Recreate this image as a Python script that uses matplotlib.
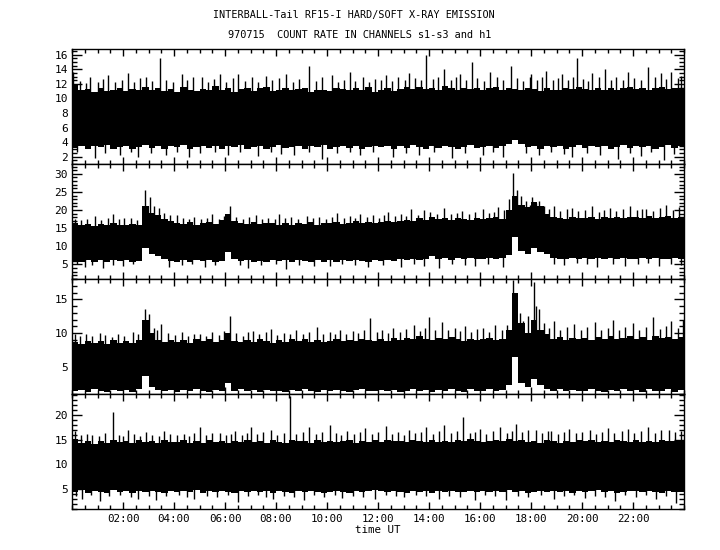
import numpy as np
import matplotlib.pyplot as plt
from matplotlib.ticker import MultipleLocator, FixedLocator

# 15-minute bins over the day (hours UT)
edges = np.linspace(0, 24, 97)

# upper / lower edge of the dense band, read per 15 min bin
s1_top = [11.8, 11.1, 11.3, 10.9, 11.4, 11.0, 11.2, 11.5,
          11.0, 11.3, 11.1, 11.6, 11.2, 11.5, 11.0, 11.3,
          10.9, 11.6, 11.2, 11.0, 11.3, 11.1, 11.7, 11.1,
          11.4, 10.9, 11.3, 11.5, 11.0, 11.4, 11.6, 11.0,
          11.2, 11.4, 11.1, 11.3, 11.5, 10.9, 11.2, 11.1,
          11.0, 11.4, 11.3, 11.1, 11.4, 11.1, 11.6, 10.9,
          11.2, 11.5, 11.0, 11.3, 11.6, 11.3, 11.6, 11.3,
          11.5, 11.2, 11.7, 11.4, 11.1, 11.5, 11.3, 11.4,
          11.1, 11.4, 11.6, 11.2, 11.4, 11.3, 11.2, 11.5,
          11.3, 11.0, 11.4, 11.2, 11.1, 11.5, 11.3, 11.6,
          11.3, 11.1, 11.4, 11.2, 11.5, 11.2, 11.4, 11.6,
          11.3, 11.5, 11.2, 11.4, 11.6, 11.3, 11.5, 11.4]
s1_bot = [3.2, 3.5, 3.1, 3.4, 3.3, 3.6, 3.1, 3.3,
          3.5, 3.1, 3.3, 3.6, 3.2, 3.4, 3.1, 3.5,
          3.3, 3.6, 3.1, 3.3, 3.5, 3.2, 3.4, 3.1,
          3.4, 3.3, 3.6, 3.1, 3.3, 3.5, 3.1, 3.3,
          3.6, 3.2, 3.3, 3.5, 3.1, 3.4, 3.3, 3.6,
          3.1, 3.3, 3.5, 3.2, 3.4, 3.1, 3.3, 3.5,
          3.3, 3.5, 3.1, 3.4, 3.2, 3.6, 3.3, 3.1,
          3.4, 3.2, 3.5, 3.3, 3.1, 3.3, 3.6, 3.2,
          3.3, 3.5, 3.2, 3.4, 3.7, 4.3, 3.7, 3.3,
          3.5, 3.1, 3.4, 3.3, 3.5, 3.1, 3.3, 3.6,
          3.2, 3.4, 3.3, 3.5, 3.1, 3.3, 3.6, 3.2,
          3.4, 3.3, 3.5, 3.1, 3.3, 3.6, 3.2, 3.4]

s2_top = [16.3, 15.8, 16.1, 15.7, 16.2, 15.9, 16.4, 16.0,
          15.8, 16.2, 16.0, 21.0, 19.2, 18.6, 17.6, 17.0,
          16.5, 16.2, 16.6, 16.0, 16.4, 16.7, 16.2, 17.2,
          18.8, 17.0, 16.5, 16.2, 16.6, 16.1, 16.4, 16.3,
          16.0, 16.3, 15.9, 16.5, 16.2, 16.6, 16.0, 16.4,
          16.3, 16.7, 16.1, 16.5, 16.9, 16.4, 16.8, 16.5,
          16.7, 17.1, 16.6, 17.0, 17.3, 16.9, 17.7, 17.3,
          18.2, 17.6, 17.9, 17.3, 17.8, 17.5, 17.3, 17.7,
          17.4, 17.8, 18.2, 17.6, 20.0, 24.0, 21.5, 20.8,
          22.2, 21.0, 19.0, 18.2, 17.9, 17.6, 18.1, 17.8,
          17.7, 18.0, 17.6, 18.2, 17.9, 18.1, 17.7, 18.0,
          18.2, 17.8, 18.3, 17.9, 18.1, 18.4, 17.8, 18.1]
s2_bot = [6.0, 5.7, 6.2, 5.8, 6.1, 5.6, 6.1, 5.9,
          6.2, 5.8, 6.0, 9.5, 7.8, 7.4, 6.6, 6.0,
          5.8, 6.1, 5.7, 6.1, 5.9, 6.2, 5.8, 6.0,
          8.5, 6.4, 5.9, 6.1, 5.7, 6.0, 5.8, 6.2,
          5.9, 6.1, 5.8, 6.2, 6.0, 5.7, 6.1, 5.8,
          6.1, 5.8, 6.2, 5.9, 6.3, 6.0, 5.8, 6.2,
          6.0, 6.3, 5.9, 6.4, 6.1, 6.5, 6.2, 6.4,
          7.2, 6.6, 6.8, 6.3, 6.7, 6.4, 6.9, 6.5,
          6.6, 6.9, 6.4, 6.8, 7.6, 12.5, 8.6, 8.0,
          9.5, 8.4, 7.8, 6.9, 6.6, 6.4, 6.8, 6.5,
          6.7, 6.4, 6.8, 6.5, 6.8, 6.4, 6.9, 6.6,
          6.4, 6.8, 6.5, 6.8, 6.6, 6.4, 6.7, 6.5]

s3_top = [8.7, 8.4, 8.9, 8.5, 8.8, 8.4, 9.0, 8.6,
          8.9, 8.5, 9.0, 12.0, 10.0, 9.0, 8.7, 9.0,
          8.7, 9.0, 8.6, 9.1, 8.8, 9.1, 8.7, 9.0,
          10.0, 8.9, 8.7, 9.0, 8.7, 9.1, 8.8, 8.6,
          9.0, 8.7, 9.1, 8.8, 9.2, 8.7, 9.0, 8.7,
          8.9, 9.2, 8.8, 9.0, 8.8, 9.2, 9.0, 8.8,
          9.1, 8.9, 9.3, 9.0, 9.3, 9.1, 9.5, 9.2,
          9.0, 9.3, 9.1, 9.4, 9.2, 8.9, 9.2, 9.0,
          9.1, 9.3, 9.0, 9.2, 10.5, 16.0, 11.5, 10.0,
          12.0, 10.5, 9.8, 9.2, 9.4, 9.0, 9.3, 9.1,
          9.3, 9.0, 9.4, 9.2, 9.5, 9.1, 9.3, 9.5,
          9.2, 9.4, 9.0, 9.5, 9.3, 9.4, 9.1, 9.4]
s3_bot = [1.4, 1.6, 1.3, 1.7, 1.5, 1.3, 1.6, 1.4,
          1.6, 1.3, 1.7, 3.6, 2.0, 1.6, 1.4, 1.6,
          1.3, 1.6, 1.4, 1.7, 1.5, 1.3, 1.6, 1.4,
          2.7, 1.5, 1.7, 1.4, 1.6, 1.3, 1.6, 1.5,
          1.5, 1.3, 1.6, 1.4, 1.7, 1.5, 1.3, 1.6,
          1.4, 1.6, 1.5, 1.3, 1.6, 1.7, 1.4, 1.5,
          1.6, 1.4, 1.6, 1.3, 1.5, 1.7, 1.4, 1.6,
          1.3, 1.6, 1.4, 1.7, 1.5, 1.3, 1.7, 1.4,
          1.5, 1.7, 1.4, 1.6, 2.4, 6.5, 2.6, 2.0,
          3.2, 2.4, 1.8, 1.5, 1.7, 1.4, 1.6, 1.5,
          1.4, 1.7, 1.5, 1.3, 1.6, 1.4, 1.7, 1.5,
          1.6, 1.3, 1.7, 1.4, 1.5, 1.7, 1.3, 1.6]

h1_top = [15.2, 14.4, 14.7, 14.2, 14.8, 14.4, 14.9, 14.5,
          14.7, 14.3, 14.9, 14.6, 14.8, 14.4, 14.9, 14.5,
          14.6, 15.0, 14.4, 14.8, 14.3, 14.9, 14.6, 14.7,
          14.4, 14.8, 14.6, 15.0, 14.5, 14.7, 14.3, 14.9,
          14.6, 14.4, 14.9, 14.7, 14.8, 14.4, 15.0, 14.6,
          14.8, 14.5, 14.7, 15.0, 14.4, 14.8, 14.6, 14.9,
          14.5, 14.9, 14.7, 14.8, 14.5, 15.0, 14.7, 14.6,
          15.0, 14.6, 14.8, 14.5, 14.9, 14.7, 15.1, 14.7,
          14.5, 14.8, 15.0, 14.7, 15.2, 14.8, 14.9, 14.6,
          14.8, 14.4, 14.9, 14.7, 14.4, 14.8, 14.6, 15.0,
          14.7, 14.9, 14.5, 14.8, 14.6, 15.0, 14.7, 14.5,
          14.9, 14.6, 14.8, 14.5, 15.0, 14.7, 14.8, 15.0]
h1_bot = [4.5, 4.8, 4.3, 4.7, 4.5, 4.3, 4.8, 4.5,
          4.6, 4.3, 4.7, 4.4, 4.7, 4.5, 4.3, 4.6,
          4.4, 4.7, 4.5, 4.8, 4.3, 4.6, 4.5, 4.7,
          4.5, 4.3, 4.6, 4.4, 4.7, 4.5, 4.7, 4.3,
          4.7, 4.5, 4.3, 4.6, 4.4, 4.7, 4.5, 4.3,
          4.5, 4.7, 4.5, 4.3, 4.7, 4.4, 4.6, 4.8,
          4.6, 4.4, 4.7, 4.5, 4.3, 4.7, 4.5, 4.6,
          4.3, 4.7, 4.5, 4.7, 4.5, 4.4, 4.6, 4.5,
          4.7, 4.5, 4.6, 4.4, 4.8, 4.5, 4.7, 4.3,
          4.5, 4.7, 4.4, 4.6, 4.5, 4.7, 4.3, 4.6,
          4.4, 4.6, 4.8, 4.5, 4.7, 4.3, 4.5, 4.7,
          4.6, 4.4, 4.7, 4.5, 4.3, 4.7, 4.5, 4.5]

# single spikes above / below the band (time UT in hours, count rate)
s1_up = [(0.05, 13.6), (0.3, 12.4), (0.55, 12.1), (0.7, 12.9), (1.0, 12.3), (1.2, 12.7),
         (1.4, 13.2), (1.7, 12.2), (1.95, 12.6), (2.2, 13.5), (2.45, 12.3), (2.65, 12.8),
         (2.9, 13.0), (3.15, 12.4), (3.45, 15.5), (3.7, 12.6), (3.95, 12.2), (4.3, 13.3),
         (4.5, 12.5), (4.75, 12.9), (5.1, 13.0), (5.35, 12.3), (5.55, 12.7), (5.8, 13.4),
         (6.05, 12.2), (6.3, 12.8), (6.5, 13.4), (6.8, 12.4), (7.05, 12.9), (7.3, 12.2),
         (7.6, 13.1), (7.85, 12.5), (8.1, 12.8), (8.4, 13.3), (8.65, 12.3), (8.9, 12.7),
         (9.3, 14.5), (9.55, 12.4), (9.8, 12.9), (10.2, 13.2), (10.45, 12.3), (10.65, 12.6),
         (10.9, 13.6), (11.1, 12.4), (11.4, 12.9), (11.65, 12.2), (11.9, 12.7), (12.1, 12.5),
         (12.3, 13.2), (12.55, 12.4), (12.8, 12.9), (13.05, 12.6), (13.2, 13.5), (13.45, 12.8),
         (13.7, 12.5), (13.9, 16.0), (14.15, 12.7), (14.35, 13.0), (14.6, 14.0), (14.85, 12.6),
         (15.05, 12.9), (15.2, 13.4), (15.45, 12.5), (15.7, 15.0), (15.9, 12.8), (16.15, 12.4),
         (16.4, 13.6), (16.65, 12.9), (16.9, 12.5), (17.2, 14.4), (17.45, 12.8), (17.7, 12.4),
         (17.95, 12.9), (18.0, 13.3), (18.25, 12.6), (18.45, 12.9), (18.6, 13.8), (18.85, 12.5),
         (19.05, 12.8), (19.2, 13.4), (19.45, 12.6), (19.65, 13.0), (19.8, 15.6), (20.05, 12.7),
         (20.25, 12.4), (20.4, 13.5), (20.65, 12.9), (20.9, 14.1), (21.15, 12.6), (21.35, 13.0),
         (21.6, 12.5), (21.8, 13.7), (22.05, 12.8), (22.3, 12.5), (22.6, 14.3), (22.85, 12.9),
         (23.1, 13.5), (23.3, 12.7), (23.5, 13.6), (23.75, 12.8), (23.9, 13.1)]
s1_dn = [(0.2, 2.6), (0.9, 1.8), (1.3, 2.5), (1.9, 2.2), (2.3, 2.7), (2.6, 2.0), (3.1, 2.5),
         (3.7, 2.3), (4.1, 2.6), (4.6, 1.9), (5.0, 2.5), (5.6, 2.7), (6.1, 2.2), (6.6, 2.6),
         (7.3, 2.1), (7.8, 2.6), (8.2, 2.4), (8.7, 2.3), (9.3, 2.6), (9.8, 1.7), (10.4, 2.5),
         (10.9, 2.7), (11.3, 2.2), (11.8, 2.6), (12.6, 2.0), (13.1, 2.5), (13.6, 2.3),
         (14.2, 2.6), (14.9, 1.8), (15.4, 2.5), (16.1, 2.2), (16.5, 2.6), (16.9, 1.9),
         (17.8, 2.5), (18.3, 2.2), (18.8, 2.6), (19.3, 2.4), (19.6, 1.9), (20.2, 2.5),
         (20.7, 2.2), (21.4, 1.7), (21.9, 2.5), (22.3, 2.1), (22.7, 2.6), (23.2, 1.6),
         (23.6, 2.4)]
s2_up = [(0.1, 17.5), (0.35, 17.2), (0.6, 17.6), (0.9, 18.3), (1.15, 17.3), (1.4, 17.8),
         (1.6, 18.8), (1.85, 17.4), (2.05, 17.7), (2.3, 17.9), (2.55, 17.3), (2.87, 25.5),
         (3.05, 23.5), (3.2, 21.0), (3.4, 20.5), (3.6, 19.2), (3.85, 18.6), (4.1, 18.5),
         (4.35, 17.8), (4.6, 17.5), (4.8, 18.2), (5.05, 17.6), (5.3, 17.9), (5.5, 19.0),
         (5.75, 17.6), (5.95, 18.3), (6.2, 21.0), (6.45, 18.1), (6.7, 17.6), (6.95, 18.0),
         (7.2, 18.6), (7.45, 17.5), (7.7, 17.9), (7.95, 17.4), (8.1, 19.0), (8.35, 17.7),
         (8.6, 18.0), (8.85, 17.5), (9.2, 18.4), (9.45, 17.8), (9.7, 18.1), (9.95, 17.6),
         (10.2, 18.2), (10.4, 19.2), (10.65, 17.9), (10.9, 18.3), (11.1, 17.8), (11.3, 18.8),
         (11.55, 18.0), (11.8, 18.5), (12.05, 17.9), (12.25, 18.6), (12.4, 19.5), (12.65, 18.4),
         (12.9, 18.8), (13.1, 18.3), (13.3, 20.3), (13.55, 18.7), (13.8, 20.0), (14.05, 19.4),
         (14.3, 18.9), (14.6, 20.6), (14.85, 19.0), (15.1, 19.3), (15.3, 19.8), (15.55, 18.9),
         (15.8, 19.5), (16.1, 20.2), (16.35, 19.1), (16.55, 19.6), (16.7, 20.8), (16.95, 20.0),
         (17.15, 23.0), (17.3, 30.2), (17.45, 25.5), (17.6, 23.8), (17.8, 22.4), (17.95, 21.5),
         (18.05, 23.5), (18.2, 22.0), (18.3, 22.6), (18.5, 21.2), (18.7, 20.4), (18.9, 21.0),
         (19.15, 19.8), (19.4, 20.2), (19.6, 20.6), (19.85, 19.7), (20.1, 20.0), (20.4, 21.2),
         (20.65, 19.6), (20.85, 20.1), (21.1, 20.5), (21.35, 19.8), (21.6, 20.3), (21.9, 21.0),
         (22.15, 19.9), (22.35, 20.2), (22.5, 20.4), (22.8, 19.8), (23.05, 20.6), (23.3, 21.5),
         (23.55, 20.0), (23.8, 20.8)]
s2_dn = [(0.2, 5.0), (0.5, 4.3), (0.8, 4.9), (1.2, 3.9), (1.6, 4.8), (2.0, 4.5), (2.4, 5.1),
         (3.8, 4.2), (4.3, 4.9), (4.7, 5.0), (5.2, 4.4), (5.6, 4.8), (6.6, 4.9), (6.9, 4.0),
         (7.4, 4.8), (8.0, 5.0), (8.4, 3.8), (8.9, 4.9), (9.5, 4.7), (10.1, 4.5), (10.6, 5.0),
         (11.1, 4.8), (11.6, 4.2), (12.2, 4.9), (12.9, 4.3), (13.4, 5.0), (13.8, 4.6),
         (14.4, 4.1), (14.9, 5.1), (15.4, 4.9), (15.8, 4.6), (16.3, 5.2), (16.9, 4.4),
         (18.9, 5.2), (19.3, 4.8), (19.8, 5.3), (20.2, 5.1), (20.6, 4.3), (21.2, 5.2),
         (21.7, 4.6), (22.2, 5.0), (22.6, 5.3), (23.0, 4.5), (23.5, 5.1), (23.9, 4.9)]
s3_up = [(0.1, 9.9), (0.3, 9.6), (0.55, 9.9), (0.8, 9.5), (1.1, 10.0), (1.3, 9.7),
         (1.55, 9.4), (1.8, 9.8), (2.05, 9.6), (2.4, 10.2), (2.6, 9.8), (2.85, 13.5),
         (3.0, 12.8), (3.2, 10.8), (3.35, 10.4), (3.5, 11.4), (3.75, 10.0), (4.05, 9.7),
         (4.3, 10.2), (4.55, 9.6), (4.8, 9.9), (5.0, 9.9), (5.25, 9.5), (5.5, 10.1),
         (5.75, 9.7), (5.95, 10.3), (6.2, 12.5), (6.45, 10.0), (6.7, 9.6), (6.9, 10.2),
         (7.1, 10.3), (7.35, 9.8), (7.6, 10.1), (7.8, 10.6), (8.05, 9.7), (8.3, 10.0),
         (8.55, 9.8), (8.8, 10.4), (9.05, 9.9), (9.3, 10.2), (9.6, 10.9), (9.85, 9.8),
         (10.1, 10.1), (10.3, 9.8), (10.5, 10.5), (10.75, 9.9), (11.0, 10.3), (11.2, 10.0),
         (11.45, 10.4), (11.7, 12.2), (11.95, 10.1), (12.15, 10.5), (12.4, 10.0), (12.6, 10.8),
         (12.85, 10.2), (13.1, 10.6), (13.4, 11.2), (13.65, 10.3), (13.85, 10.7), (14.0, 12.4),
         (14.25, 10.5), (14.5, 11.6), (14.75, 10.4), (15.0, 10.8), (15.2, 10.3), (15.4, 11.0),
         (15.65, 10.2), (15.9, 10.6), (16.1, 10.8), (16.35, 10.1), (16.6, 11.2), (16.85, 10.4),
         (17.05, 11.2), (17.3, 17.8), (17.4, 15.5), (17.55, 13.0), (17.7, 11.8), (17.9, 12.5),
         (18.1, 17.5), (18.2, 14.0), (18.3, 13.5), (18.5, 11.5), (18.7, 10.8), (18.9, 11.8),
         (19.15, 10.4), (19.4, 10.9), (19.7, 11.3), (19.95, 10.5), (20.2, 10.9), (20.5, 11.6),
         (20.75, 10.4), (21.0, 10.8), (21.2, 12.0), (21.45, 10.5), (21.7, 10.9), (22.0, 11.5),
         (22.25, 10.4), (22.5, 10.9), (22.8, 12.4), (23.05, 10.6), (23.3, 11.0), (23.5, 11.8),
         (23.75, 10.7), (23.95, 12.0)]
s3_dn = []
h1_up = [(0.1, 16.8), (0.35, 15.9), (0.6, 16.2), (0.8, 16.0), (1.05, 15.7), (1.3, 16.3),
         (1.6, 20.5), (1.85, 16.0), (2.0, 15.8), (2.2, 17.0), (2.45, 16.1), (2.65, 15.7),
         (2.9, 16.5), (3.15, 16.0), (3.4, 15.8), (3.6, 16.8), (3.85, 16.1), (4.1, 15.9),
         (4.4, 16.2), (4.6, 15.8), (4.8, 16.4), (5.0, 17.5), (5.25, 16.0), (5.5, 16.3),
         (5.8, 16.4), (6.05, 15.9), (6.25, 16.2), (6.4, 16.7), (6.65, 16.0), (6.85, 16.3),
         (7.0, 17.5), (7.25, 16.1), (7.5, 16.5), (7.8, 16.9), (8.05, 16.0), (8.3, 16.4),
         (8.55, 23.8), (8.8, 16.2), (9.05, 16.6), (9.3, 17.6), (9.55, 16.1), (9.8, 16.5),
         (10.1, 18.0), (10.35, 16.3), (10.55, 16.0), (10.8, 16.8), (11.05, 16.2), (11.3, 16.5),
         (11.5, 17.3), (11.75, 16.1), (12.0, 16.6), (12.3, 17.8), (12.55, 16.2), (12.8, 16.5),
         (13.0, 16.0), (13.2, 16.9), (13.45, 16.3), (13.7, 16.6), (13.9, 17.5), (14.15, 16.2),
         (14.4, 16.7), (14.6, 18.0), (14.85, 16.4), (15.1, 16.8), (15.35, 19.6), (15.6, 16.3),
         (15.8, 16.6), (16.0, 17.2), (16.25, 16.2), (16.5, 16.7), (16.8, 17.5), (17.05, 16.4),
         (17.25, 16.8), (17.4, 18.2), (17.65, 16.5), (17.9, 16.9), (18.2, 17.0), (18.45, 16.3),
         (18.65, 16.7), (18.8, 16.8), (19.05, 16.2), (19.3, 16.6), (19.5, 17.2), (19.75, 16.3),
         (20.0, 16.6), (20.3, 17.0), (20.55, 16.2), (20.8, 16.6), (21.0, 17.3), (21.25, 16.4),
         (21.55, 16.7), (21.8, 17.1), (22.05, 16.3), (22.3, 16.8), (22.6, 17.6), (22.85, 16.4),
         (23.1, 16.9), (23.4, 17.0), (23.65, 16.5), (23.9, 16.8)]
h1_dn = [(0.15, 3.7), (0.4, 3.0), (0.75, 3.8), (1.1, 2.6), (1.45, 3.6), (1.9, 3.9), (2.3, 3.5),
         (2.6, 3.0), (3.0, 3.7), (3.3, 2.8), (3.7, 3.6), (4.2, 3.9), (4.5, 3.4), (4.8, 3.1),
         (5.3, 3.7), (5.7, 3.5), (6.1, 3.8), (6.5, 2.5), (6.9, 3.6), (7.3, 3.9), (7.6, 3.4),
         (7.9, 3.0), (8.3, 3.7), (8.7, 3.5), (9.1, 2.9), (9.5, 3.8), (9.9, 3.5), (10.3, 3.9),
         (10.6, 3.2), (11.0, 3.7), (11.4, 3.5), (11.9, 3.0), (12.3, 3.8), (12.7, 3.6),
         (13.0, 3.4), (13.5, 3.8), (13.9, 3.6), (14.4, 3.1), (14.8, 3.7), (15.2, 3.5),
         (15.8, 2.9), (16.2, 3.8), (16.6, 3.6), (17.0, 2.8), (17.5, 3.7), (17.9, 3.5),
         (18.4, 3.8), (18.9, 3.0), (19.3, 3.6), (19.7, 3.9), (20.1, 3.3), (20.5, 3.7),
         (20.9, 3.5), (21.3, 2.7), (21.7, 3.8), (22.1, 3.5), (22.5, 3.8), (22.9, 3.1),
         (23.3, 3.6), (23.7, 2.3)]

panels = [
    (s1_top, s1_bot, s1_up, s1_dn, (1, 16.8), 0.5, [2, 4, 6, 8, 10, 12, 14, 16]),
    (s2_top, s2_bot, s2_up, s2_dn, (1, 32.7), 1, [5, 10, 15, 20, 25, 30]),
    (s3_top, s3_bot, s3_up, s3_dn, (1, 18.0), 1, [5, 10, 15]),
    (h1_top, h1_bot, h1_up, h1_dn, (1, 24.2), 1, [5, 10, 15, 20]),
]
hour_labels = ['02:00', '04:00', '06:00', '08:00', '10:00', '12:00',
               '14:00', '16:00', '18:00', '20:00', '22:00']

mono = 'DejaVu Sans Mono'
fig, axes = plt.subplots(4, 1, figsize=(7.2, 5.5), dpi=100, sharex=True)
fig.subplots_adjust(left=0.1, right=0.95, top=0.911, bottom=0.0745, hspace=0)

for ax, (top, bot, up, dn, ylim, minor, ylabs) in zip(axes, panels):
    top = np.array(top)
    bot = np.array(bot)
    ax.stairs(top, edges, baseline=bot, fill=True, color='black', lw=0)
    mid = (top + bot) / 2
    if up:
        t, v = np.array(up).T
        ax.vlines(t, mid[np.minimum((t * 4).astype(int), 95)], v, color='black', lw=1.0)
    if dn:
        t, v = np.array(dn).T
        ax.vlines(t, v, mid[np.minimum((t * 4).astype(int), 95)], color='black', lw=1.0)
    ax.set_xlim(0, 24)
    ax.set_ylim(*ylim)
    ax.yaxis.set_major_locator(FixedLocator(ylabs))
    ax.yaxis.set_minor_locator(MultipleLocator(minor))
    ax.xaxis.set_major_locator(MultipleLocator(2))
    ax.xaxis.set_minor_locator(MultipleLocator(0.5))
    ax.tick_params(which='both', direction='in', top=True, right=True, colors='black')
    ax.tick_params(axis='y', which='major', length=7, width=1, pad=3)
    ax.tick_params(axis='y', which='minor', length=3.5, width=1)
    ax.tick_params(axis='x', which='major', length=5, width=1)
    ax.tick_params(axis='x', which='minor', length=3, width=1)
    for lab in ax.get_yticklabels():
        lab.set_fontfamily(mono)
        lab.set_fontsize(8)
    for s in ax.spines.values():
        s.set_linewidth(1.0)

axes[-1].set_xticks(range(2, 24, 2))
axes[-1].set_xticklabels(hour_labels, fontfamily=mono, fontsize=7.8)
axes[-1].set_xlabel('time UT', fontfamily=mono, fontsize=7.8, labelpad=1)

fig.text(0.492, 0.972, 'INTERBALL-Tail RF15-I HARD/SOFT X-RAY EMISSION',
         ha='center', va='center', fontfamily=mono, fontsize=7.3)
fig.text(0.5, 0.937, '970715  COUNT RATE IN CHANNELS s1-s3 and h1',
         ha='center', va='center', fontfamily=mono, fontsize=7.4)

fig.savefig('out.png', dpi=100)
